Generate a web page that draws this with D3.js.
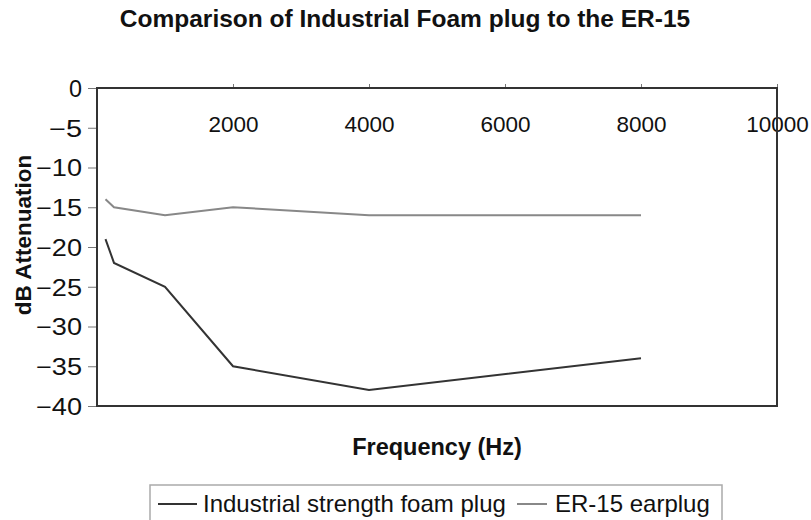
<!DOCTYPE html>
<html>
<head>
<meta charset="utf-8">
<script src="https://cdn.jsdelivr.net/npm/d3@7"></script>
<style>
  body { margin: 0; background: #fff; }
  text { font-family: "Liberation Sans", Arial, sans-serif; fill: #111; }
</style>
</head>
<body>
<svg id="chart" width="811" height="520"></svg>
<script>
// frequencies in Hz
var freqs = [125, 250, 1000, 2000, 4000, 8000];
var foamPlug = [-19, -22, -25, -35, -38, -34];
var er15 = [-14, -15, -16, -15, -16, -16];
var seriesNames = ["Industrial strength foam plug", "ER-15 earplug"];
var seriesColors = ["#333", "#888"];
var xTicks = [2000, 4000, 6000, 8000, 10000];
var yTicks = [0, -5, -10, -15, -20, -25, -30, -35, -40];

var svg = d3.select("#chart");
var plotL = 97, plotR = 777, plotT = 88, plotB = 406;

var x = d3.scaleLinear().domain([0, 10000]).range([plotL, plotR]);
var y = d3.scaleLinear().domain([-40, 0]).range([plotB, plotT]);

// y axis
var yAxis = d3.axisLeft(y).tickValues(yTicks).tickSize(9).tickPadding(6)
    .tickFormat(function (d) { return d == 0 ? "0" : "\u2212" + Math.abs(d); });
var gy = svg.append("g").attr("transform", "translate(" + plotL + ",0)").call(yAxis);
gy.select(".domain").remove();
gy.selectAll(".tick line").style("stroke", "#777");
gy.selectAll(".tick text")
    .style("font-size", "23px").attr("dy", "0.36em").style("fill", "#111")
    .attr("textLength", function (d) { return String(Math.abs(d)).length * 13 + (d < 0 ? 20 : 0); })
    .attr("lengthAdjust", "spacingAndGlyphs");

// x axis on top, labels sit inside the plot
var xAxis = d3.axisTop(x).tickValues(xTicks).tickSize(4).tickFormat(d3.format("d"));
var gx = svg.append("g").attr("transform", "translate(0," + plotT + ")").call(xAxis);
gx.select(".domain").remove();
gx.selectAll(".tick line").style("stroke", "#777");
gx.selectAll(".tick text")
    .style("font-size", "22.5px").style("fill", "#111")
    .attr("y", 44).attr("dy", 0);

// plot frame
svg.append("rect")
    .attr("x", plotL).attr("y", plotT)
    .attr("width", plotR - plotL).attr("height", plotB - plotT)
    .style("fill", "none").style("stroke", "#333").style("stroke-width", 2);

// lines
var line = d3.line()
    .x(function (d, i) { return x(freqs[i]); })
    .y(function (d) { return y(d); });

[foamPlug, er15].forEach(function (s, i) {
    svg.append("path")
        .attr("d", line(s))
        .style("fill", "none")
        .style("stroke", seriesColors[i])
        .style("stroke-width", 2);
});

// titles
svg.append("text")
    .attr("x", 405).attr("y", 27)
    .attr("text-anchor", "middle")
    .style("font-size", "24.5px").style("font-weight", "bold")
    .text("Comparison of Industrial Foam plug to the ER-15");

svg.append("text")
    .attr("x", 437).attr("y", 455)
    .attr("text-anchor", "middle")
    .style("font-size", "23.5px").style("font-weight", "bold")
    .text("Frequency (Hz)");

svg.append("text")
    .attr("transform", "translate(31,235) rotate(-90)")
    .attr("text-anchor", "middle")
    .style("font-size", "22.5px").style("font-weight", "bold")
    .text("dB Attenuation");

// legend
var lg = svg.append("g");
lg.append("rect")
    .attr("x", 150).attr("y", 485)
    .attr("width", 572).attr("height", 50)
    .style("fill", "#fff").style("stroke", "#aaa").style("stroke-width", 1.5);

var legendX = [158, 517];
seriesNames.forEach(function (n, i) {
    lg.append("line")
        .attr("x1", legendX[i]).attr("x2", legendX[i] + (i == 0 ? 39 : 30))
        .attr("y1", 504).attr("y2", 504)
        .style("stroke", seriesColors[i]).style("stroke-width", 2);
    lg.append("text")
        .attr("x", legendX[i] + (i == 0 ? 45 : 38)).attr("y", 512)
        .style("font-size", "24px")
        .text(n);
});
</script>
</body>
</html>
